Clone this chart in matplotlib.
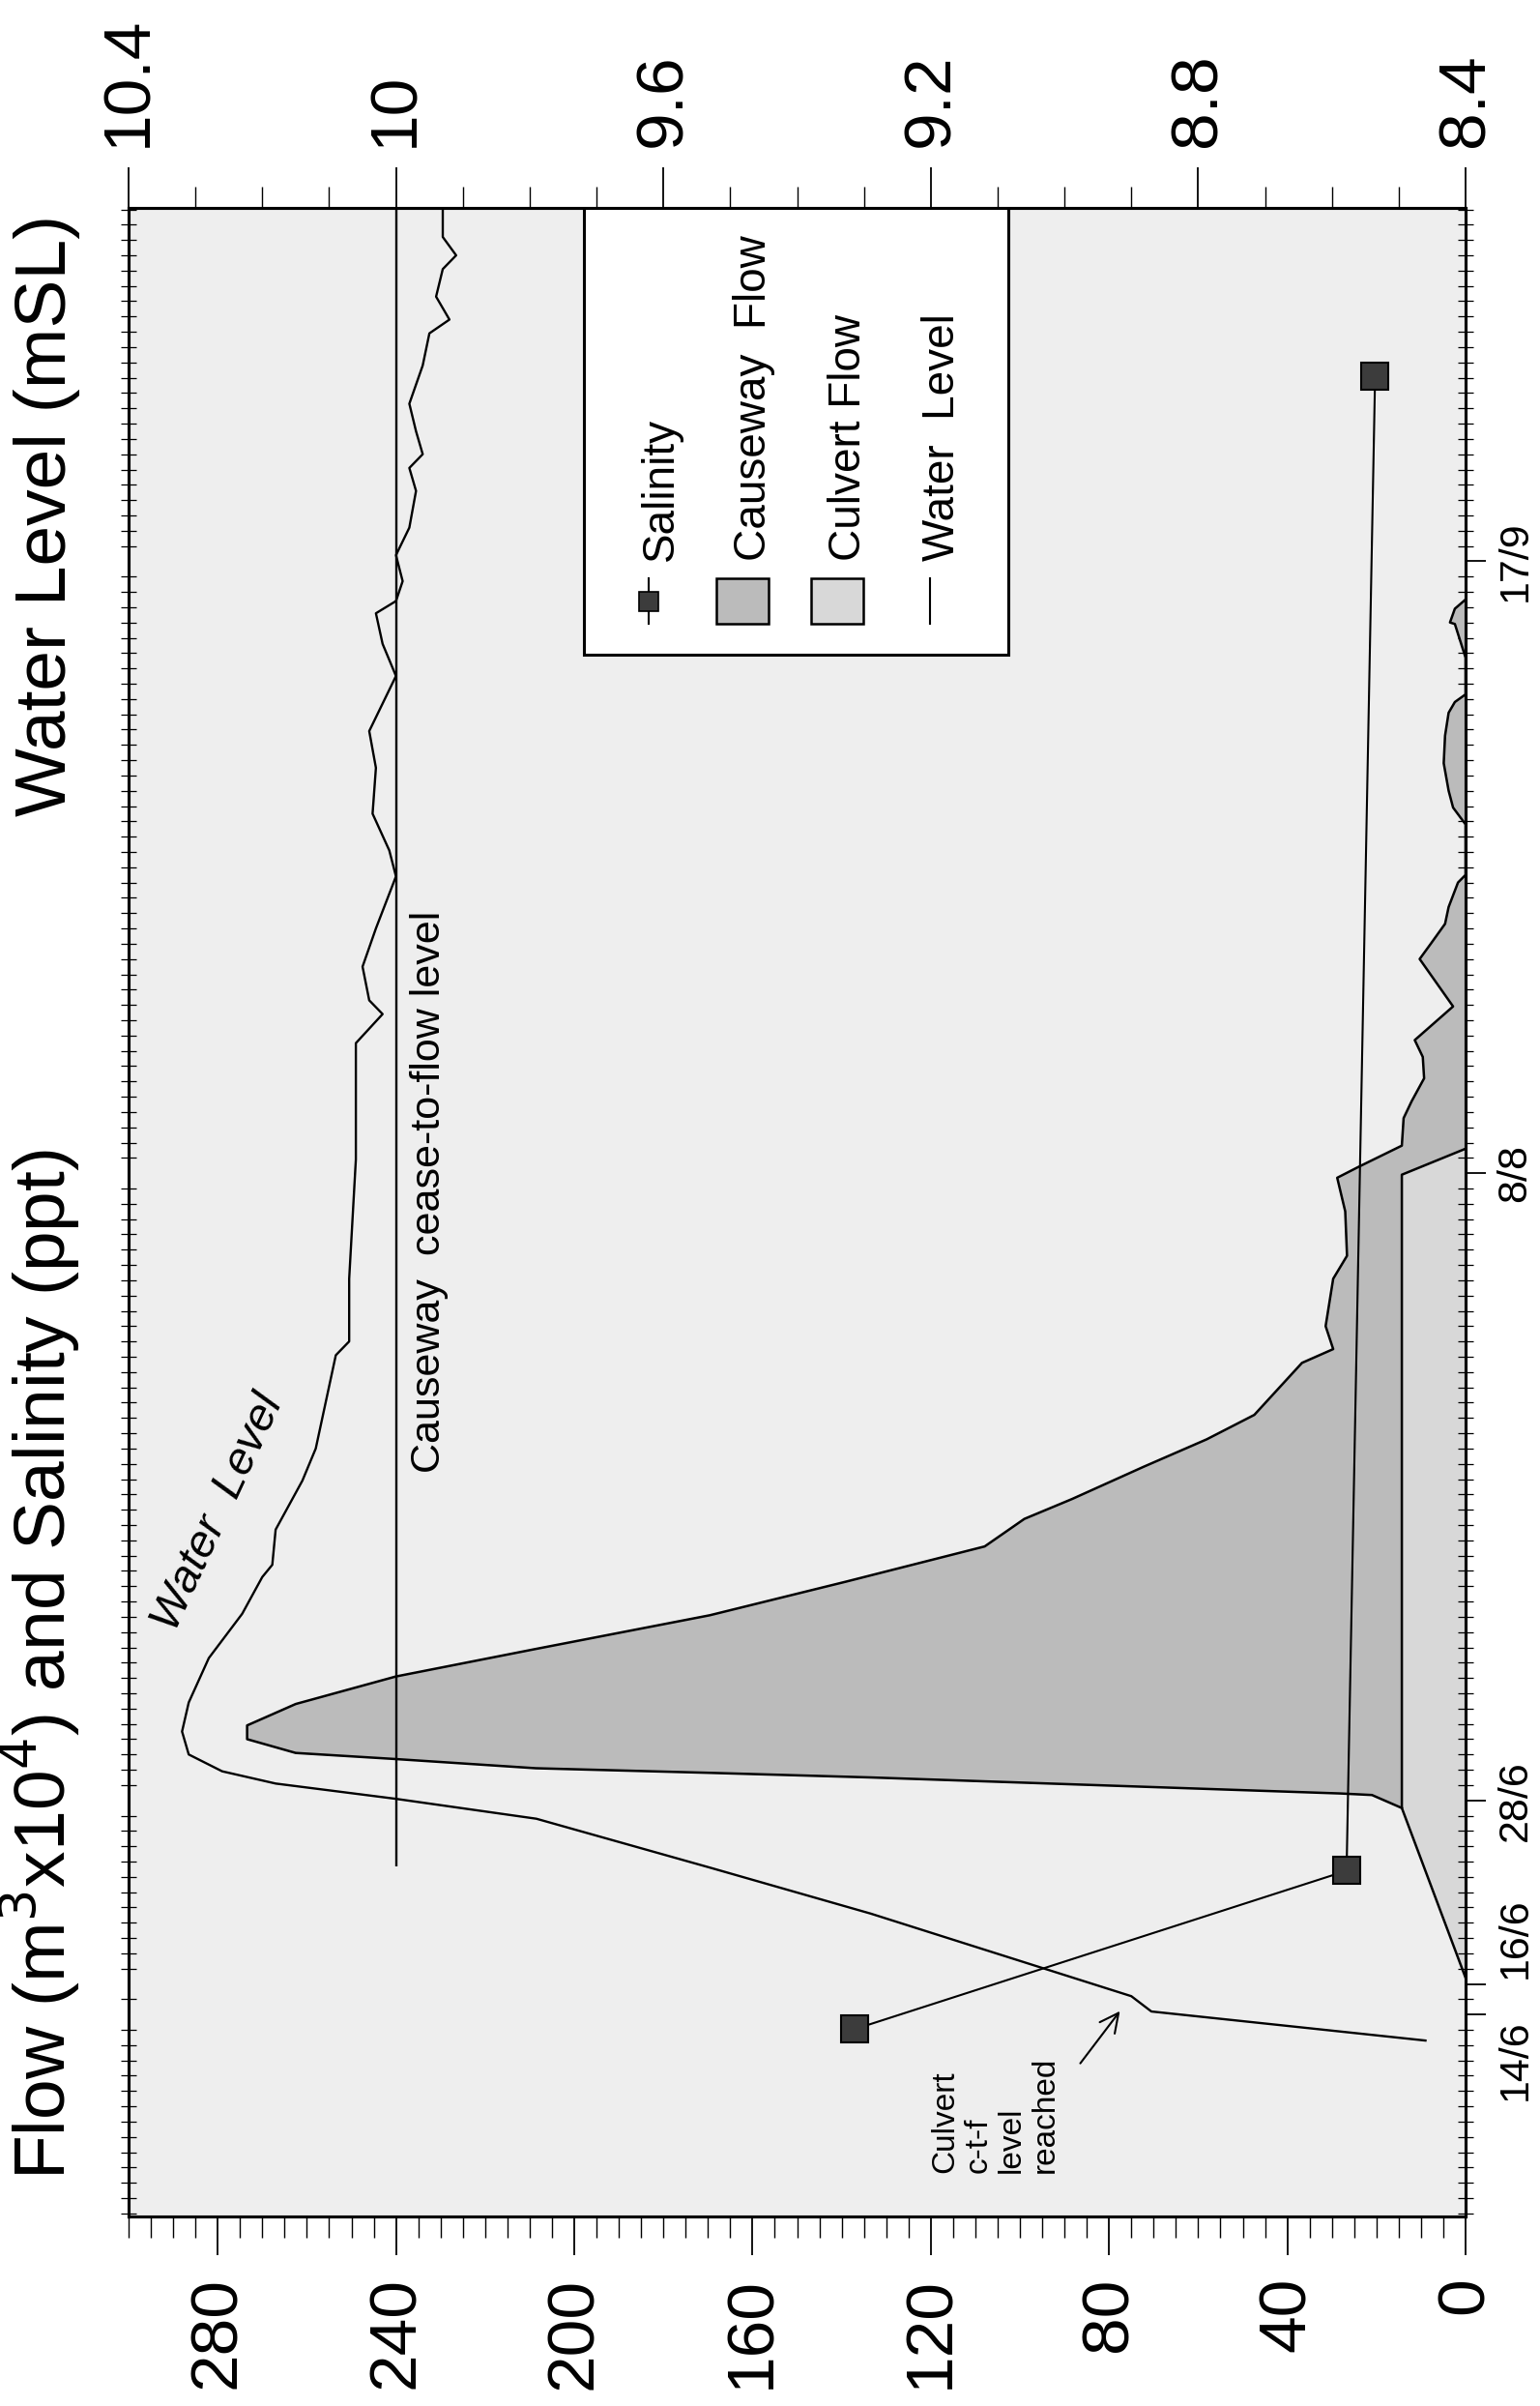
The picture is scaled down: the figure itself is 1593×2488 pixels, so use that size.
import numpy as np
import matplotlib
matplotlib.use('Agg')
import matplotlib.pyplot as plt
from matplotlib.ticker import MultipleLocator
from matplotlib.patches import Rectangle
from matplotlib.lines import Line2D

plt.rcParams['font.family'] = ['Liberation Sans', 'DejaVu Sans']

# time axis: days counted from 1 June
date_ticks = [13, 15, 27, 68, 108]
date_labels = ['14/6', '16/6', '28/6', '8/8', '17/9']
date_label_shift = [-34, 34, 0, 0, 0]   # points, keeps 14/6 and 16/6 apart

flow_ticks = [0, 40, 80, 120, 160, 200, 240, 280]
wl_ticks = [8.4, 8.8, 9.2, 9.6, 10.0, 10.4]
wl_tick_labels = ['8.4', '8.8', '9.2', '9.6', '10', '10.4']

# water level (mSL)
wl_days = [11.3, 13.2, 14.2, 19.6, 22.6, 25.8, 27.1, 28.1, 28.9, 30.0, 31.5, 33.4,
           36.3, 39.2, 41.6, 42.4, 44.7, 47.9, 50.0, 56.1, 57.0, 61.1, 68.9, 73.1,
           76.5, 78.4, 79.3, 81.5, 84.0, 87.4, 89.1, 91.5, 94.5, 96.9, 98.7, 100.5,
           102.6, 104.6, 105.4, 106.7, 108.4, 110.2, 112.6, 114.1, 115.0, 116.5,
           118.3, 120.8, 122.9, 123.8, 125.3, 127.1, 128.0, 129.2, 131.1]
water_level = [8.46, 8.87, 8.90, 9.29, 9.53, 9.79, 10.00, 10.18, 10.26, 10.31, 10.32, 10.31,
               10.28, 10.23, 10.20, 10.185, 10.18, 10.14, 10.12, 10.09, 10.07, 10.07, 10.06, 10.06,
               10.06, 10.02, 10.04, 10.05, 10.03, 10.00, 10.01, 10.035, 10.03, 10.04, 10.02, 10.00,
               10.02, 10.03, 10.00, 9.99, 10.00, 9.98, 9.97, 9.98, 9.96, 9.97,
               9.98, 9.96, 9.95, 9.92, 9.94, 9.93, 9.91, 9.93, 9.93]

# culvert flow (m3 x 10^4)
cul_days = [15.4, 26.5, 67.9, 69.6]
culvert = [0, 14.3, 14.3, 0]

# causeway flow stacked on culvert flow (outer edge of the shaded area)
comb_days = [26.5, 27.35, 27.45, 28.5, 28.8, 29.1, 29.7, 30.1, 31.0, 31.9, 33.3, 35.1,
             36.9, 39.1, 41.3, 43.6, 45.4, 46.7, 48.8, 50.6, 52.2, 55.6, 56.5, 58.0,
             61.1, 62.6, 65.5, 67.7, 68.4, 69.8, 71.6, 72.7, 74.2, 75.6, 76.7, 78.9,
             82.0, 83.0, 84.3, 85.4, 87.0, 87.5, 90.8, 91.9, 93.0, 94.8, 96.6, 98.1,
             98.8, 99.3, 101.7, 103.9, 104.0, 104.9, 105.5]
comb_flow = [14.3, 21.0, 28.0, 133.6, 169.6, 208.6, 240.0, 262.5, 273.4, 273.4, 262.5, 240.0,
             208.6, 169.6, 139.0, 107.9, 99.0, 88.3, 72.3, 58.1, 47.4, 36.7, 29.7, 31.4,
             29.7, 26.6, 27.0, 28.8, 24.1, 14.3, 13.9, 12.1, 9.3, 9.6, 11.4, 2.8,
             10.3, 7.8, 4.6, 3.8, 1.7, 0, 0, 2.8, 3.8, 4.9, 4.6, 3.8,
             2.4, 0, 0, 2.4, 3.5, 2.4, 0]

# salinity (ppt)
sal_days = [12.05, 22.4, 120.1]
salinity = [137, 26.7, 20.3]

cease_level = 10.0
cease_start_day = 22.7

W, H = 1593, 2488
fig = plt.figure(figsize=(W / 100, H / 100), dpi=100)
ax = fig.add_axes([133 / W, 1 - 2292 / H, 1383 / W, 2077 / H])
ax.set_facecolor('#eeeeee')
ax.set_xlim(300, 0)
ax.set_ylim(-0.2, 131.1)

# culvert area
ax.fill_betweenx(cul_days, 0, culvert, color='#d8d8d8', zorder=1, lw=0)
# causeway area: outer edge, then back down along the culvert edge
poly_x = np.concatenate([comb_flow, culvert[:0:-1]])
poly_y = np.concatenate([comb_days, cul_days[:0:-1]])
ax.fill(poly_x, poly_y, facecolor='#bbbbbb', edgecolor='none', zorder=2)
ax.plot(comb_flow, comb_days, color='k', lw=1.8, zorder=3)
ax.plot(culvert, cul_days, color='k', lw=1.8, zorder=3)

# salinity
ax.plot(salinity, sal_days, color='k', lw=1.5, marker='s', ms=20,
        mfc='#3c3c3c', mec='k', mew=1.5, zorder=5)

# flow axis (bottom)
ax.set_xticks(flow_ticks)
ax.xaxis.set_minor_locator(MultipleLocator(5))
ax.tick_params(axis='x', which='major', direction='out', length=29, width=1.3,
               pad=16, labelsize=50, labelrotation=90, top=False)
ax.tick_params(axis='x', which='minor', direction='out', length=16, width=1.0, top=False)

# date axis (right)
ax.set_yticks(date_ticks)
ax.set_yticklabels([])
ax.yaxis.set_minor_locator(MultipleLocator(1))
ax.tick_params(axis='y', which='major', left=False, right=True, labelleft=False,
               direction='out', length=15, width=1.3)
ax.tick_params(axis='y', which='minor', left=True, right=True, direction='inout',
               length=12, width=0.9)
for d, lab, sh in zip(date_ticks, date_labels, date_label_shift):
    ax.annotate(lab, xy=(1, d), xycoords=('axes fraction', 'data'),
                xytext=(37, sh), textcoords='offset points', rotation=90,
                ha='center', va='center', fontsize=31)

for sp in ax.spines.values():
    sp.set_linewidth(2.2)

# water level axis (top)
ax_wl = ax.twiny()
ax_wl.set_xlim(10.4, 8.4)
ax_wl.set_xticks(wl_ticks, labels=wl_tick_labels)
ax_wl.xaxis.set_minor_locator(MultipleLocator(0.1))
ax_wl.tick_params(axis='x', which='major', direction='out', length=30, width=1.3,
                  pad=15, labelsize=50, labelrotation=90)
ax_wl.tick_params(axis='x', which='minor', direction='out', length=16, width=1.0)
for sp in ax_wl.spines.values():
    sp.set_linewidth(2.2)

ax_wl.plot(water_level, wl_days, color='k', lw=1.7, zorder=4)
ax_wl.vlines(cease_level, cease_start_day, 131.1, color='k', lw=1.7)
ax_wl.text(cease_level - 0.05, 48.4, 'Causeway  cease-to-flow level', rotation=90,
           ha='center', va='bottom', fontsize=31)
ax_wl.text(10.33, 37.9, 'Water  Level', rotation=65, rotation_mode='anchor',
           ha='left', va='baseline', fontsize=34, style='italic')

# culvert cease-to-flow annotation
ax_wl.annotate('', xy=(water_level[2], wl_days[2]), xytext=(-38, -50),
               textcoords='offset points',
               arrowprops=dict(arrowstyle='->', lw=1.5, color='k',
                               shrinkA=0, shrinkB=14, mutation_scale=35))
ax.text(120.2, 2.65, 'Culvert\nc-t-f\nlevel\nreached', rotation=90, ha='left',
        va='bottom', ma='left', fontsize=24, linespacing=1.15)

# legend, drawn by hand so that it can be turned with the chart
def axf(px, py):
    return ((px - 133) / 1383, (2292 - py) / 2077)

x0, y0 = axf(604, 677)
x1, y1 = axf(1043, 215)
ax.add_patch(Rectangle((x0, y0), x1 - x0, y1 - y0, transform=ax.transAxes,
                       facecolor='white', edgecolor='k', lw=2.2, zorder=10))
top_y = axf(0, 598)[1]
bot_y = axf(0, 645)[1]
text_y = axf(0, 580)[1]

sx = axf(671, 0)[0]
ax.add_line(Line2D([sx, sx], [bot_y, top_y], transform=ax.transAxes, color='k',
                   lw=1.5, zorder=11))
ax.add_line(Line2D([sx], [(bot_y + top_y) / 2], transform=ax.transAxes, marker='s',
                   ms=15, mfc='#3c3c3c', mec='k', mew=1.2, zorder=12))
for px, fc in [(768, '#bbbbbb'), (866, '#d8d8d8')]:
    a0 = axf(px - 27, 0)[0]
    a1 = axf(px + 27, 0)[0]
    ax.add_patch(Rectangle((a0, bot_y), a1 - a0, top_y - bot_y, transform=ax.transAxes,
                           facecolor=fc, edgecolor='k', lw=1.8, zorder=11))
wx = axf(962, 0)[0]
ax.add_line(Line2D([wx, wx], [bot_y, top_y], transform=ax.transAxes, color='k',
                   lw=1.5, zorder=11))
for px, lab in [(684, 'Salinity'), (780, 'Causeway  Flow'),
                (878, 'Culvert Flow'), (975, 'Water  Level')]:
    ax.text(axf(px, 0)[0], text_y, lab, transform=ax.transAxes, rotation=90,
            ha='center', va='bottom', fontsize=33, zorder=12)

# titles along the (turned) top of the chart
fig.text(68 / W, 1 - 2254 / H, 'Flow (m$^3$x10$^4$) and Salinity (ppt)', rotation=90,
         rotation_mode='anchor', ha='left', va='baseline', fontsize=54)
fig.text(68 / W, 1 - 222 / H, 'Water Level (mSL)', rotation=90,
         rotation_mode='anchor', ha='right', va='baseline', fontsize=54)

fig.savefig('out.png', dpi=100)
